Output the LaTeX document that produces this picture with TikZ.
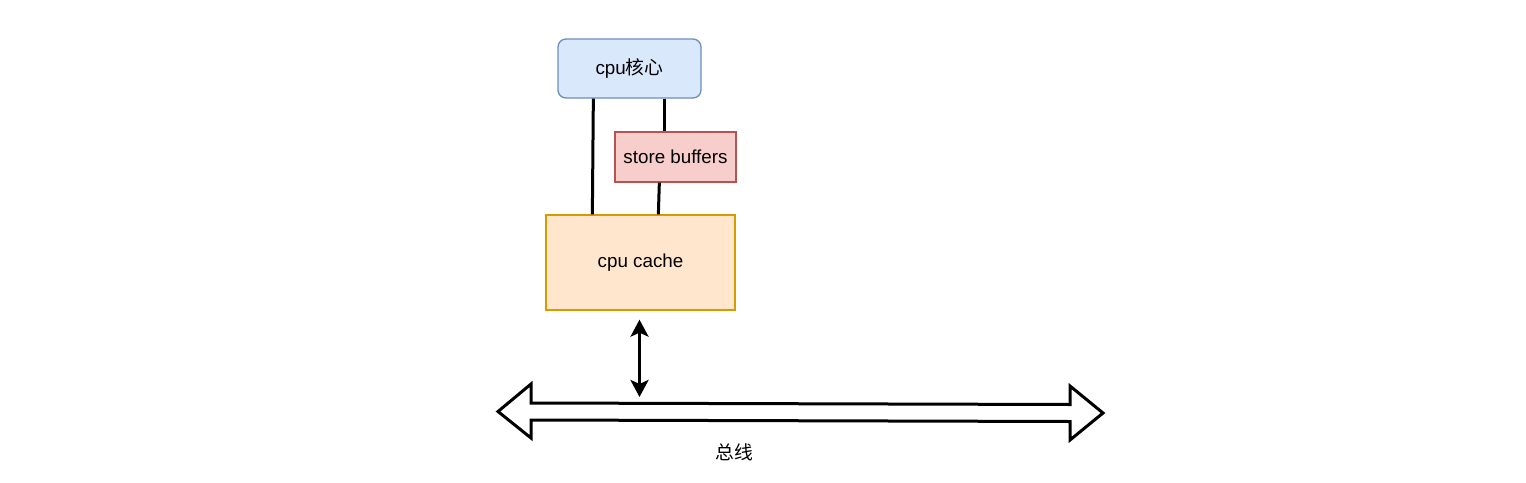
\documentclass[tikz,border=0pt]{standalone}
\usepackage{fontspec}
\setmainfont{Liberation Sans}
\newfontfamily\cjk{Noto Sans CJK SC}
\usetikzlibrary{arrows.meta}
\definecolor{bluefill}{HTML}{DAE8FC}
\definecolor{bluedraw}{HTML}{6C8EBF}
\definecolor{redfill}{HTML}{F8CECC}
\definecolor{reddraw}{HTML}{B85450}
\definecolor{orfill}{HTML}{FFE6CC}
\definecolor{ordraw}{HTML}{D79B00}
\tikzset{
  box/.style={draw, line width=1.3pt, inner sep=0pt, font=\fontsize{18.8}{22}\selectfont},
  link/.style={line width=3pt},
}
\begin{document}
\begin{tikzpicture}[x=1pt,y=-1pt]
\useasboundingbox (0,0) rectangle (1526,482);
\node[box, fill=bluefill, draw=bluedraw, rounded corners=8pt, minimum width=143pt, minimum height=59pt] (core) at (629.5,68.5) {cpu{\cjk 核心}};
\node[box, fill=redfill, draw=reddraw, minimum width=121pt, minimum height=50pt] (buf) at (675.5,157) {store buffers};
\node[box, fill=orfill, draw=ordraw, minimum width=189pt, minimum height=95pt] (cache) at (640.5,262.5) {cpu cache};
\draw[link] ([xshift=36pt]core.south west) -- ([xshift=47pt]cache.north west);
\draw[link] ([xshift=107pt]core.south west) -- ([xshift=50pt]buf.north west);
\draw[link] ([xshift=45pt]buf.south west) -- ([xshift=113pt]cache.north west);
% bus
\draw[line width=3pt, line join=miter, fill=white]
  (498,411.5) -- (531,384) -- (531,403) -- (1070,404.5) -- (1070,386) -- (1103,413)
  -- (1070,440) -- (1070,421.5) -- (531,420) -- (531,438) -- cycle;
\coordinate (bustop) at (639.5,397);
\draw[link, {Stealth[length=17pt,width=18pt,inset=4pt]}-{Stealth[length=17pt,width=18pt,inset=4pt]}] ([xshift=-1pt,yshift=-9pt]cache.south) -- (bustop);
\node[font=\fontsize{18.8}{22}\selectfont\cjk] (buslabel) at (734,452) {总线};
\end{tikzpicture}
\end{document}
